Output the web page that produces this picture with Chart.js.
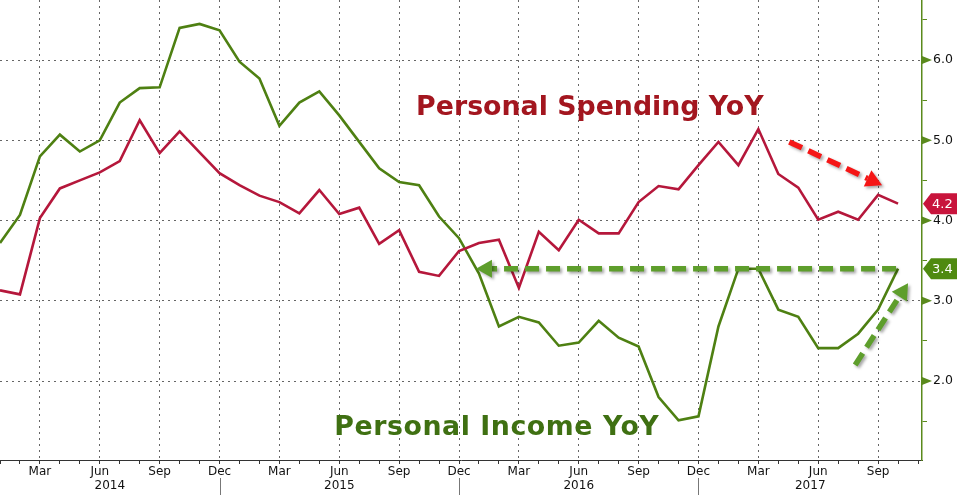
<!DOCTYPE html>
<html>
<head>
<meta charset="utf-8">
<script src="https://cdn.jsdelivr.net/npm/chart.js@4.4.0/dist/chart.umd.min.js"></script>
<style>
  html, body { margin: 0; padding: 0; background: #fff; }
  #chart { display: block; }
</style>
</head>
<body>
<canvas id="chart" width="957" height="495"></canvas>
<script>
// monthly YoY %, Jan 2014 .. Oct 2017
const monthNames = ["Jan", "Feb", "Mar", "Apr", "May", "Jun", "Jul", "Aug", "Sep", "Oct", "Nov", "Dec"];
const years = [2014, 2015, 2016, 2017];

const spending = [
  3.13, 3.08, 4.03, 4.40, 4.50, 4.60, 4.74, 5.25, 4.84, 5.11, 4.85, 4.59,
  4.44, 4.31, 4.23, 4.09, 4.38, 4.08, 4.16, 3.71, 3.88, 3.36, 3.31, 3.62,
  3.72, 3.76, 3.16, 3.86, 3.63, 4.01, 3.84, 3.84, 4.23, 4.43, 4.39, 4.69,
  4.98, 4.69, 5.14, 4.58, 4.41, 4.01, 4.11, 4.01, 4.32, 4.21,
];
const income = [
  3.72, 4.07, 4.80, 5.07, 4.86, 5.00, 5.47, 5.65, 5.66, 6.40, 6.45, 6.37,
  5.98, 5.77, 5.18, 5.47, 5.61, 5.31, 4.98, 4.65, 4.48, 4.44, 4.05, 3.78,
  3.34, 2.68, 2.80, 2.73, 2.44, 2.48, 2.75, 2.54, 2.43, 1.80, 1.51, 1.56,
  2.68, 3.40, 3.40, 2.89, 2.80, 2.41, 2.41, 2.59, 2.89, 3.40,
];
const yLabelValues = [2, 3, 4, 5, 6];

// annotations in data space: [month index, value]
const titles = [
  { text: "Personal Spending YoY", color: "#a3161f", at: [20.85, 5.32], spacing: "0px" },
  { text: "Personal Income YoY", color: "#3f7012", at: [16.75, 1.33], spacing: "0.55px" },
];
const arrows = [
  { from: [39.55, 4.98], to: [44.2, 4.44], color: "#f51616" },
  { from: [44.9, 3.4], to: [23.85, 3.4], color: "#5e9e2c" },
  { from: [42.85, 2.2], to: [45.5, 3.22], color: "#5e9e2c" },
];

const RED = "#b5173b";
const GREEN = "#4e8012";
const AXIS_GREEN = "#5a8a1c";
const FONT = "'DejaVu Sans', sans-serif";

function isQuarter(v) {
  return v % 3 === 2;
}

function toPoints(values) {
  return values.map((v, i) => ({ x: i, y: v }));
}

function drawArrow(ctx, x1, y1, x2, y2, color) {
  const ang = Math.atan2(y2 - y1, x2 - x1);
  const headLen = 16;
  const headW = 9;
  const bx = x2 - Math.cos(ang) * headLen;
  const by = y2 - Math.sin(ang) * headLen;
  ctx.save();
  ctx.shadowColor = "rgba(0,0,0,0.35)";
  ctx.shadowBlur = 3;
  ctx.shadowOffsetX = 2;
  ctx.shadowOffsetY = 2;
  ctx.strokeStyle = color;
  ctx.fillStyle = color;
  ctx.lineWidth = 5.5;
  ctx.setLineDash([14, 7]);
  ctx.beginPath();
  ctx.moveTo(x1, y1);
  ctx.lineTo(bx, by);
  ctx.stroke();
  ctx.setLineDash([]);
  ctx.beginPath();
  ctx.moveTo(x2, y2);
  ctx.lineTo(bx + Math.sin(ang) * headW, by - Math.cos(ang) * headW);
  ctx.lineTo(bx - Math.sin(ang) * headW, by + Math.cos(ang) * headW);
  ctx.closePath();
  ctx.fill();
  ctx.restore();
}

const decorations = {
  id: "decorations",
  beforeDatasetsDraw(chart) {
    const { ctx, scales: { x, y } } = chart;
    ctx.save();
    ctx.font = "bold 26.8px 'DejaVu Sans', sans-serif";
    ctx.textBaseline = "alphabetic";
    ctx.textAlign = "left";
    for (const t of titles) {
      ctx.fillStyle = t.color;
      if ("letterSpacing" in ctx) ctx.letterSpacing = t.spacing;
      ctx.fillText(t.text, x.getPixelForValue(t.at[0]), y.getPixelForValue(t.at[1]));
    }
    ctx.restore();
  },
  afterDatasetsDraw(chart) {
    const { ctx, scales: { x, y } } = chart;
    for (const a of arrows) {
      drawArrow(ctx,
        x.getPixelForValue(a.from[0]), y.getPixelForValue(a.from[1]),
        x.getPixelForValue(a.to[0]), y.getPixelForValue(a.to[1]), a.color);
    }
  },
  afterDraw(chart) {
    const { ctx, chartArea, scales: { x, y } } = chart;
    const right = chartArea.right;
    ctx.save();

    // arrow-shaped major ticks on the right axis
    ctx.fillStyle = AXIS_GREEN;
    for (const v of yLabelValues) {
      const py = y.getPixelForValue(v);
      ctx.beginPath();
      ctx.moveTo(right, py - 4);
      ctx.lineTo(right + 10, py);
      ctx.lineTo(right, py + 4);
      ctx.closePath();
      ctx.fill();
    }

    // year row
    ctx.font = "12px " + FONT;
    ctx.fillStyle = "#111";
    ctx.textAlign = "center";
    ctx.textBaseline = "middle";
    ctx.strokeStyle = "#777";
    ctx.lineWidth = 1;
    years.forEach((yr, i) => {
      const start = Math.max(x.min, i * 12 - 1);
      const end = Math.min(x.max, i * 12 + 11);
      const cx = (x.getPixelForValue(start) + x.getPixelForValue(end)) / 2;
      ctx.fillText(String(yr), cx, chartArea.bottom + 26);
      if (i * 12 + 11 < x.max) {
        const sx = Math.round(x.getPixelForValue(i * 12 + 11)) + 0.5;
        ctx.beginPath();
        ctx.moveTo(sx, chartArea.bottom + 18);
        ctx.lineTo(sx, chart.height);
        ctx.stroke();
      }
    });

    // last-value tags
    const tags = [
      { value: spending[spending.length - 1], color: "#c8143c" },
      { value: income[income.length - 1], color: "#4f8a10" },
    ];
    ctx.font = "13px " + FONT;
    ctx.textAlign = "left";
    for (const t of tags) {
      const py = y.getPixelForValue(t.value);
      ctx.fillStyle = t.color;
      ctx.beginPath();
      ctx.moveTo(right + 1, py);
      ctx.lineTo(right + 9, py - 10.5);
      ctx.lineTo(chart.width, py - 10.5);
      ctx.lineTo(chart.width, py + 10.5);
      ctx.lineTo(right + 9, py + 10.5);
      ctx.closePath();
      ctx.fill();
      ctx.fillStyle = "#fff";
      ctx.fillText(t.value.toFixed(1), right + 10, py + 1);
    }
    ctx.restore();
  },
};

new Chart(document.getElementById("chart"), {
  type: "line",
  data: {
    datasets: [
      {
        label: "Personal Spending YoY",
        data: toPoints(spending),
        borderColor: RED,
        borderWidth: 2.6,
        pointRadius: 0,
        tension: 0,
      },
      {
        label: "Personal Income YoY",
        data: toPoints(income),
        borderColor: GREEN,
        borderWidth: 2.6,
        pointRadius: 0,
        tension: 0,
      },
    ],
  },
  options: {
    responsive: false,
    animation: false,
    devicePixelRatio: 1,
    layout: { padding: 0 },
    plugins: {
      legend: { display: false },
      tooltip: { enabled: false },
    },
    scales: {
      x: {
        type: "linear",
        min: 0,
        max: 46.2,
        border: { color: "#333", width: 1, dash: [2, 4] },
        grid: {
          color: (c) => (c.tick && isQuarter(c.tick.value) ? "#666" : "rgba(0,0,0,0)"),
          lineWidth: 1,
          tickLength: 4,
          tickColor: "#333",
          tickBorderDash: [],
        },
        ticks: {
          stepSize: 1,
          autoSkip: false,
          includeBounds: false,
          maxRotation: 0,
          padding: 1,
          color: "#111",
          font: { family: FONT, size: 12 },
          callback: (v) => (isQuarter(v) ? monthNames[v % 12] : ""),
        },
        afterFit: (s) => {
          s.height = 35;
          s.paddingLeft = 0;
          s.paddingRight = 0;
        },
      },
      y: {
        position: "right",
        min: 1.016,
        max: 6.748,
        border: { color: AXIS_GREEN, width: 1.5, dash: [2, 4] },
        grid: {
          color: (c) => (c.tick && Number.isInteger(c.tick.value) ? "#666" : "rgba(0,0,0,0)"),
          lineWidth: 1,
          tickLength: 5,
          tickColor: AXIS_GREEN,
          tickBorderDash: [],
        },
        ticks: {
          stepSize: 0.5,
          includeBounds: false,
          padding: 6,
          color: "#111",
          font: { family: FONT, size: 12.5 },
          callback: (v) => (Number.isInteger(v) ? v.toFixed(1) : ""),
        },
        afterFit: (s) => {
          s.width = 35;
          s.paddingTop = 0;
          s.paddingBottom = 0;
        },
      },
    },
  },
  plugins: [decorations],
});
</script>
</body>
</html>
